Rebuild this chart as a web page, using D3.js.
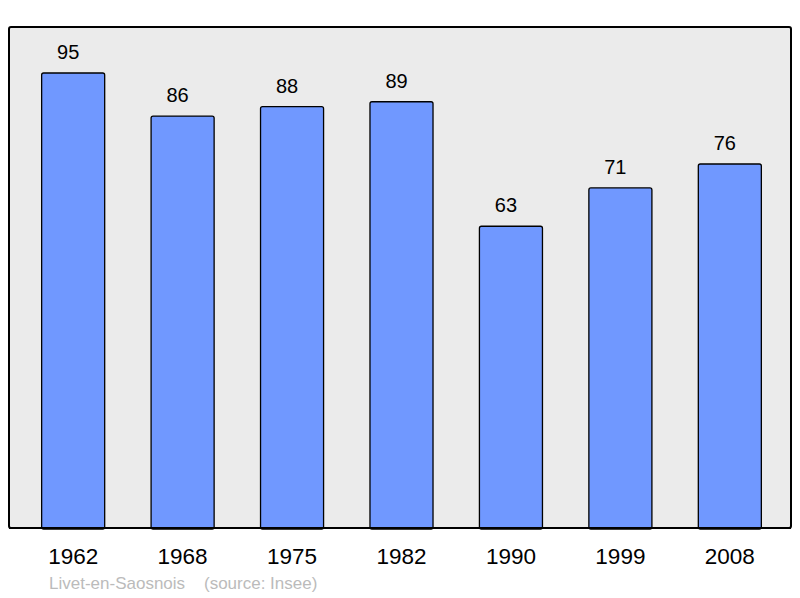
<!DOCTYPE html>
<html>
<head>
<meta charset="utf-8">
<script src="https://cdn.jsdelivr.net/npm/d3@7"></script>
<style>
  body { margin: 0; background: #fff; }
  text { font-family: "Liberation Sans", Arial, sans-serif; }
</style>
</head>
<body>
<div class="grafico"></div>
<script>
// data
const annees = ["1962", "1968", "1975", "1982", "1990", "1999", "2008"];
const population = [95, 86, 88, 89, 63, 71, 76];
const commune = "Livet-en-Saosnois";
const source = "(source: Insee)";

var width = 800, height = 598;
var plot = { left: 9, top: 27, right: 791, bottom: 528 };

var svg = d3.select(".grafico")
  .append("svg")
  .attr("width", width)
  .attr("height", height);

// scales
var x = d3.scaleBand()
  .domain(annees)
  .range([plot.left + 2, plot.right + 1])
  .paddingInner(0.424)
  .paddingOuter(0.28);
var y = d3.scaleLinear()
  .domain([0, 95])
  .range([plot.bottom, 73]);

// fond
svg.append("rect")
  .attr("x", plot.left)
  .attr("y", plot.top)
  .attr("width", plot.right - plot.left)
  .attr("height", plot.bottom - plot.top)
  .attr("rx", 2)
  .attr("fill", "#ebebeb")
  .attr("stroke", "#000")
  .attr("stroke-width", 2);

// barres
svg.selectAll(".bar")
  .data(population)
  .enter()
  .append("rect")
  .attr("class", "bar")
  .attr("x", (d, i) => x(annees[i]))
  .attr("y", d => y(d))
  .attr("width", x.bandwidth())
  .attr("height", d => y(0) - y(d) + 1)
  .attr("rx", 2)
  .attr("fill", "#7098ff")
  .attr("stroke", "#000")
  .attr("stroke-width", 1.3);

// re-trace le bas du cadre par dessus
svg.append("line")
  .attr("x1", plot.left)
  .attr("x2", plot.right)
  .attr("y1", plot.bottom)
  .attr("y2", plot.bottom)
  .attr("stroke", "#000")
  .attr("stroke-width", 2);

// valeurs
svg.selectAll(".val")
  .data(population)
  .enter()
  .append("text")
  .attr("class", "val")
  .attr("x", (d, i) => x(annees[i]) + x.bandwidth() / 2 - 5)
  .attr("y", d => y(d) - 14)
  .attr("text-anchor", "middle")
  .attr("font-size", 20)
  .attr("fill", "#000")
  .text(d => d);

// axe x (etiquettes seulement)
var axe = svg.append("g")
  .attr("transform", "translate(0," + plot.bottom + ")")
  .call(d3.axisBottom(x).tickSize(0).tickPadding(20));
axe.select(".domain").remove();
axe.selectAll("text")
  .attr("font-size", 22.5)
  .attr("font-family", "Liberation Sans, Arial, sans-serif")
  .attr("fill", "#000");

// pied
svg.append("text")
  .attr("x", 49)
  .attr("y", 589)
  .attr("font-size", 17)
  .attr("fill", "#bbbbbb")
  .attr("xml:space", "preserve")
  .text(commune + "    " + source);
</script>
</body>
</html>
